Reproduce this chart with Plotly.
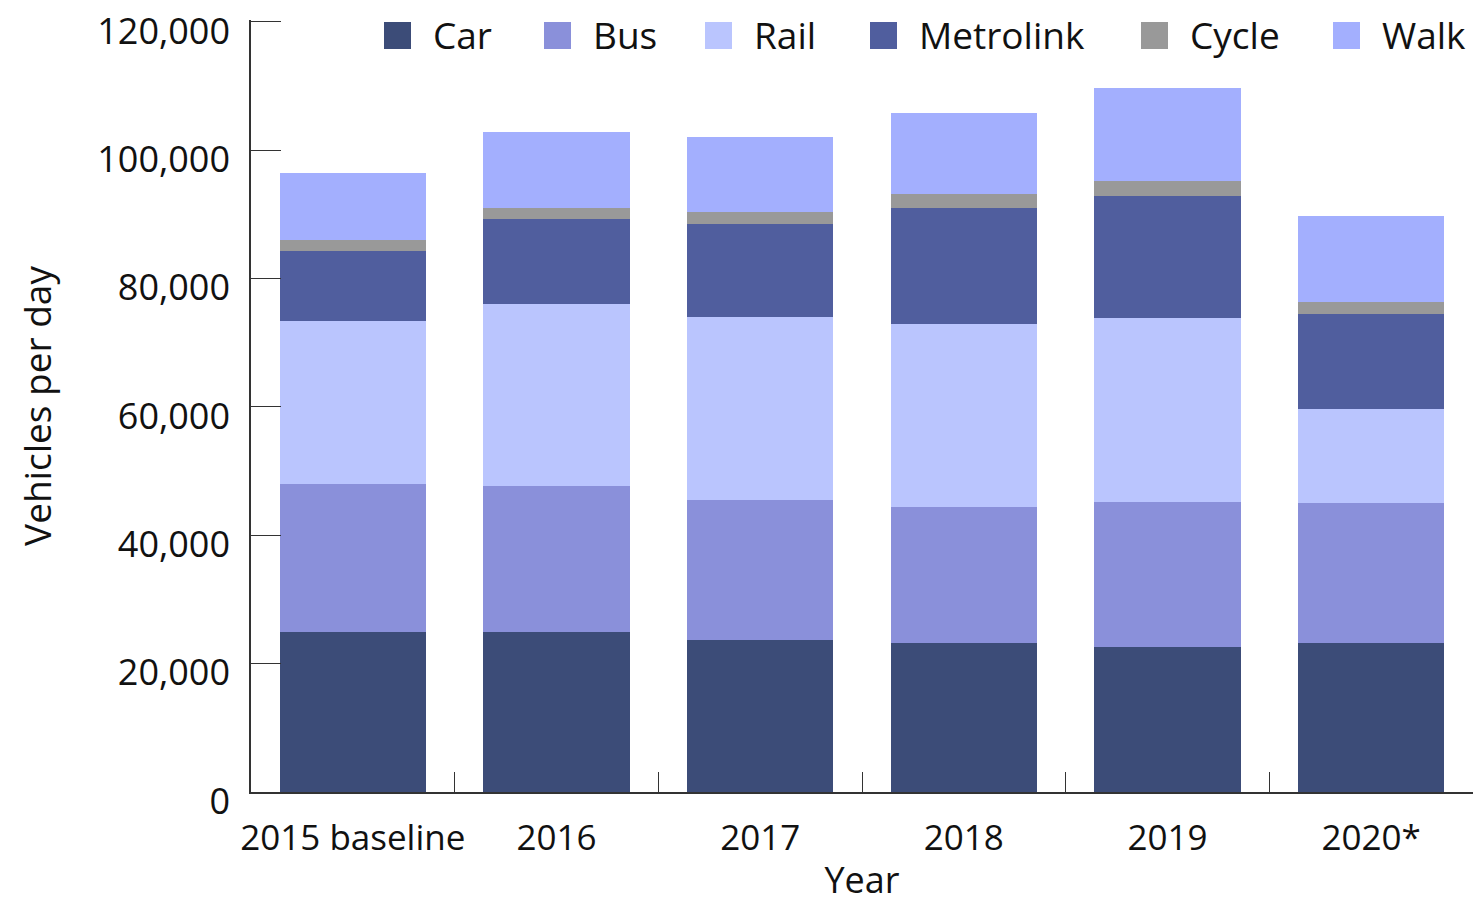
import plotly.graph_objects as go

years = ["2015 baseline", "2016", "2017", "2018", "2019", "2020*"]
car = [25000, 24900, 23700, 23200, 22600, 23200]
bus = [23000, 22800, 21800, 21200, 22600, 21800]
rail = [25400, 28300, 28500, 28500, 28700, 14700]
metrolink = [10900, 13300, 14500, 18100, 19000, 14800]
cycle = [1700, 1700, 1900, 2200, 2300, 1900]
walk = [10500, 11900, 11700, 12600, 14500, 13400]

tick_vals = [0, 20000, 40000, 60000, 80000, 100000, 120000]
tick_text = ["0", "20,000", "40,000", "60,000", "80,000", "100,000", "120,000"]

series = [
    ("Car", car, "#3c4c78"),
    ("Bus", bus, "#8a90da"),
    ("Rail", rail, "#bac5fe"),
    ("Metrolink", metrolink, "#505e9e"),
    ("Cycle", cycle, "#999999"),
    ("Walk", walk, "#a3affe"),
]

FONT = "Open Sans"
W, H = 1478, 904
L, R, T, B = 251, 5, 20, 112
PW, PH = W - L - R, H - T - B
YMAX = 120300

def px_x(px):
    return (px - L) / PW

def px_y(py):
    return (H - B - py) / PH

fig = go.Figure()
for name, vals, col in series:
    fig.add_trace(go.Bar(name=name, x=years, y=vals, showlegend=False,
                         marker=dict(color=col, line=dict(width=0))))

# custom legend (large square swatches)
swatch_px = [384, 544, 705, 870, 1141, 1333]
shapes, annots = [], []
for (name, _, col), sx in zip(series, swatch_px):
    shapes.append(dict(type="rect", xref="paper", yref="paper",
                       x0=px_x(sx), x1=px_x(sx + 27), y0=px_y(49), y1=px_y(22),
                       fillcolor=col, line=dict(width=0)))
    annots.append(dict(text=name, xref="paper", yref="paper", x=px_x(sx + 47), y=px_y(35),
                       xanchor="left", yanchor="middle", showarrow=False,
                       font=dict(size=37, family=FONT, color="#111111")))

fig.update_layout(
    barmode="stack",
    bargap=0.28,
    width=W, height=H,
    margin=dict(l=L, r=R, t=T, b=B),
    plot_bgcolor="white", paper_bgcolor="white",
    font=dict(family=FONT, size=35, color="#111111"),
    showlegend=False,
    shapes=shapes,
    annotations=annots,
    xaxis=dict(title=dict(text="Year", font=dict(size=36), standoff=24),
               automargin=False, tickangle=0,
               showline=True, linecolor="#333", linewidth=1.5,
               ticks="inside", ticklen=20, tickcolor="#333", tickson="boundaries",
               ticklabelstandoff=14,
               showgrid=False, tickfont=dict(size=35)),
    yaxis=dict(title=dict(text="Vehicles per day", font=dict(size=37), standoff=34),
               automargin=False,
               range=[0, YMAX], tickvals=tick_vals, ticktext=tick_text,
               showline=True, linecolor="#333", linewidth=1.5,
               ticks="inside", ticklen=30, tickcolor="#333",
               ticklabelstandoff=12, ticklabelshift=9, ticklabeloverflow="allow",
               showgrid=False, zeroline=False, tickfont=dict(size=36)),
)

fig.write_html("out.html", config={"displayModeBar": False},
               post_script="document.body.style.margin='0';")
